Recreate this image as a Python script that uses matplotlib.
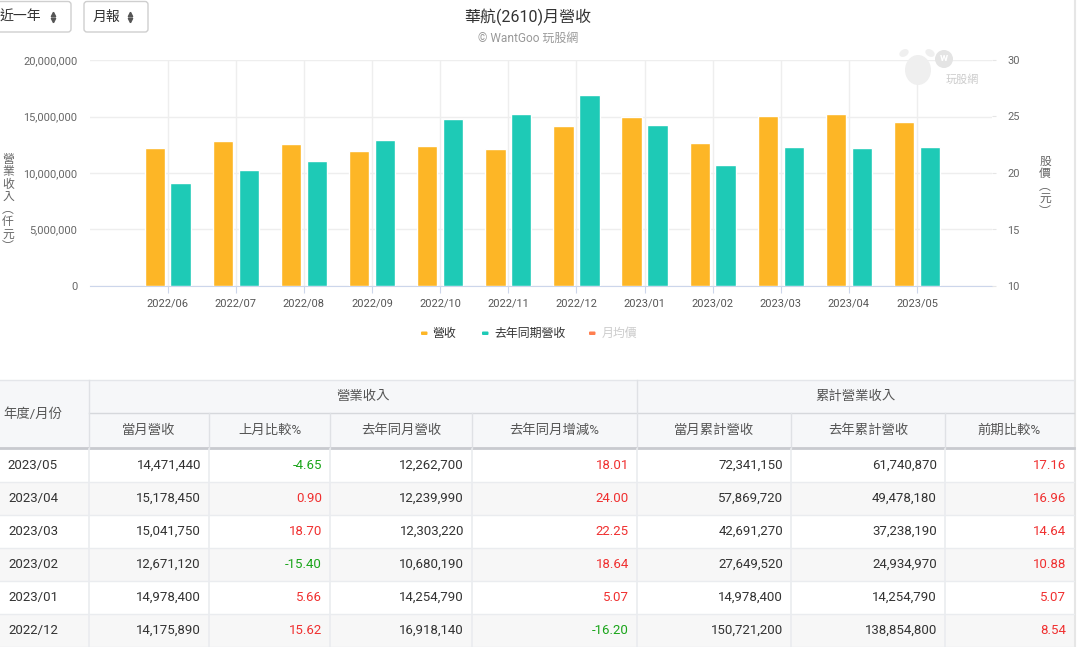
import matplotlib
matplotlib.use("Agg")
import matplotlib.pyplot as plt
from matplotlib.patches import Rectangle, FancyBboxPatch, Circle, Ellipse
from matplotlib.ticker import FuncFormatter

plt.rcParams['font.family'] = ['Roboto', 'Noto Sans CJK TC', 'DejaVu Sans']

# ---------------- data ----------------
months = ['2022/06', '2022/07', '2022/08', '2022/09', '2022/10', '2022/11',
          '2022/12', '2023/01', '2023/02', '2023/03', '2023/04', '2023/05']
revenue = [12250000, 12790000, 12600000, 11920000, 12430000, 12160000,
           14175890, 14978400, 12671120, 15041750, 15178450, 14471440]
revenue_last_year = [9100000, 10250000, 11040000, 12950000, 14810000, 15250000,
                     16918140, 14254790, 10680190, 12303220, 12239990, 12262700]
left_ticks = [0, 5000000, 10000000, 15000000, 20000000]
right_ticks = [10, 15, 20, 25, 30]
legend_labels = ['營收', '去年同期營收', '月均價']

table_dates = ['2023/05', '2023/04', '2023/03', '2023/02', '2023/01', '2022/12']
t_rev = ['14,471,440', '15,178,450', '15,041,750', '12,671,120', '14,978,400', '14,175,890']
t_mom = ['-4.65', '0.90', '18.70', '-15.40', '5.66', '15.62']
t_rev_ly = ['12,262,700', '12,239,990', '12,303,220', '10,680,190', '14,254,790', '16,918,140']
t_yoy = ['18.01', '24.00', '22.25', '18.64', '5.07', '-16.20']
t_cum = ['72,341,150', '57,869,720', '42,691,270', '27,649,520', '14,978,400', '150,721,200']
t_cum_ly = ['61,740,870', '49,478,180', '37,238,190', '24,934,970', '14,254,790', '138,854,800']
t_cum_chg = ['17.16', '16.96', '14.64', '10.88', '5.07', '8.54']
group_headers = ['營業收入', '累計營業收入']
sub_headers = ['當月營收', '上月比較%', '去年同月營收', '去年同月增減%', '當月累計營收', '去年累計營收', '前期比較%']

ORANGE = '#FDB626'
TEAL = '#1ECAB6'
CORAL = '#FF7F50'
RED = '#F03030'
GREEN = '#1AA51A'
TXT = '#333333'

W, H = 1077, 647
fig = plt.figure(figsize=(W / 100, H / 100), dpi=100)
fig.patch.set_facecolor('white')

# ---------------- chart ----------------
px_l, px_r, px_t, px_b = 90, 992, 60, 286
ax = fig.add_axes([px_l / W, 1 - px_b / H, (px_r - px_l) / W, (px_b - px_t) / H])
x = list(range(len(months)))
bw = 0.30
ax.bar([i - 0.19 for i in x], revenue, width=bw, color=ORANGE, edgecolor='white', linewidth=1, zorder=3)
ax.bar([i + 0.19 for i in x], revenue_last_year, width=bw, color=TEAL, edgecolor='white', linewidth=1, zorder=3)
ax.set_xlim(-1.14, 12.1)
ax.set_ylim(0, 20000000)
ax.set_yticks(left_ticks)
ax.yaxis.set_major_formatter(FuncFormatter(lambda v, p: f'{int(v):,}'))
ax.set_xticks(x)
ax.set_xticklabels(months)
ax.grid(True, color='#eeeeee', linewidth=1, zorder=0)
for s in ['top', 'left', 'right']:
    ax.spines[s].set_visible(False)
ax.spines['bottom'].set_color('#ccd6eb')
ax.tick_params(axis='y', length=0, pad=9, labelsize=7.9, labelcolor='#666666')
ax.tick_params(axis='x', length=5, color='#ccd6eb', pad=4, labelsize=7.9, labelcolor='#555555')

ax2 = ax.twinx()
ax2.set_ylim(10, 30)
ax2.set_yticks(right_ticks)
for s in ['top', 'left', 'right', 'bottom']:
    ax2.spines[s].set_visible(False)
ax2.tick_params(axis='y', length=3, color='#e6e6e6', pad=8, labelsize=7.9, labelcolor='#666666')

# ---------------- overlay ----------------
ov = fig.add_axes([0, 0, 1, 1], zorder=5)
ov.set_xlim(0, W)
ov.set_ylim(H, 0)
ov.axis('off')
ov.patch.set_alpha(0)

# container right border
ov.plot([1074.5, 1074.5], [0, H], color='#e6e6e6', lw=1.5)

# dropdowns
for (x0, x1, label, ix) in [(-4, 71, '近一年', 53), (84, 148, '月報', 130)]:
    ov.add_patch(FancyBboxPatch((x0, 1.5), x1 - x0, 30.5, boxstyle='round,pad=0,rounding_size=3',
                                fc='white', ec='#cfcfcf', lw=1))
    ov.text(x0 + (4 if x0 < 0 else 9), 16.5, label, fontsize=10, color=TXT, ha='left', va='center')
    ov.plot([ix], [14], marker='^', ms=3.2, color='#555555', ls='none')
    ov.plot([ix], [19.5], marker='v', ms=3.2, color='#555555', ls='none')

# titles
ov.text(528, 17, '華航(2610)月營收', fontsize=11.5, color='#333333', ha='center', va='center')
ov.text(528, 38, '© WantGoo 玩股網', fontsize=8.6, color='#999999', ha='center', va='center')

# watermark logo (faint)
ov.add_patch(Ellipse((918, 70), 26, 30, fc='#efefef', ec='none'))
ov.add_patch(Ellipse((904, 53), 10, 7, fc='#efefef', ec='none', angle=-30))
ov.add_patch(Ellipse((930, 53), 10, 7, fc='#efefef', ec='none', angle=30))
ov.add_patch(Circle((944, 59), 9, fc='#e4e4e4', ec='none'))
ov.text(944, 58, 'w', fontsize=8, color='white', ha='center', va='center', fontweight='bold')
ov.text(962, 80, '玩股網', fontsize=8, color='#cccccc', ha='center', va='center')

# axis titles (vertical stacked)
ov.text(8, 203, '\n'.join('營業收入︵仟元︶'), fontsize=8.5, color='#666666', ha='center', va='center',
        linespacing=0.95)
ov.text(1045, 186, '\n'.join('股價︵元︶'), fontsize=8.5, color='#666666', ha='center', va='center',
        linespacing=0.95)

# legend
leg = [(421, 432, ORANGE, legend_labels[0], '#333333'),
       (482, 494, TEAL, legend_labels[1], '#333333'),
       (589, 602, CORAL, legend_labels[2], '#cccccc')]
for (mx, tx, c, lab, tc) in leg:
    ov.add_patch(FancyBboxPatch((mx, 331.5), 6.5, 3.5, boxstyle='round,pad=0,rounding_size=1',
                                fc=c, ec='none'))
    ov.text(tx, 333, lab, fontsize=8.6, color=tc, ha='left', va='center')

# ---------------- table ----------------
cols = [-23, 89, 209, 330, 472, 637, 791, 945, 1074]
hy0, hy1, hy2 = 380, 413, 448
row_h = 33
HDR_BG = '#f6f7f9'
ov.add_patch(Rectangle((0, hy0), 1074, hy2 - hy0, fc=HDR_BG, ec='none'))
ov.plot([0, 1074], [hy0, hy0], color='#e4e6ea', lw=1)
ov.plot([89, 1074], [hy1, hy1], color='#d6d8dc', lw=1)
ov.plot([0, 1074], [hy2, hy2], color='#c8cacf', lw=2)
for cx in [89, 637]:
    ov.plot([cx, cx], [hy0, hy2], color='#dfe1e5', lw=1)
for cx in cols[2:-1]:
    if cx != 637:
        ov.plot([cx, cx], [hy1, hy2], color='#dfe1e5', lw=1)
ov.text(33, (hy0 + hy2) / 2, '年度/月份', fontsize=9.6, color='#555555', ha='center', va='center')
ov.text((89 + 637) / 2, (hy0 + hy1) / 2, group_headers[0], fontsize=9.6, color='#555555', ha='center', va='center')
ov.text((637 + 1074) / 2, (hy0 + hy1) / 2, group_headers[1], fontsize=9.6, color='#555555', ha='center', va='center')
for k, h in enumerate(sub_headers):
    cx = (cols[k + 1] + cols[k + 2]) / 2
    ov.text(cx, (hy1 + hy2) / 2, h, fontsize=9.6, color='#555555', ha='center', va='center')


def pct_color(s):
    return GREEN if s.startswith('-') else RED


rows = list(zip(table_dates, t_rev, t_mom, t_rev_ly, t_yoy, t_cum, t_cum_ly, t_cum_chg))
for r, row in enumerate(rows):
    y0 = hy2 + 1 + r * row_h
    if r % 2 == 1:
        ov.add_patch(Rectangle((0, y0), 1074, row_h, fc='#f7f7f7', ec='none'))
    ov.plot([0, 1074], [y0 + row_h, y0 + row_h], color='#eaecef', lw=1)
    yc = y0 + row_h / 2
    ov.text(33, yc, row[0], fontsize=9.5, color=TXT, ha='center', va='center')
    for k in range(1, 8):
        val = row[k]
        color = pct_color(val) if k in (2, 4, 7) else TXT
        ov.text(cols[k + 1] - 8, yc, val, fontsize=9.5, color=color, ha='right', va='center')
for cx in cols[1:-1]:
    ov.plot([cx, cx], [hy2 + 1, H], color='#eaecef', lw=1.2)

fig.savefig('out.png', dpi=100, facecolor='white')
